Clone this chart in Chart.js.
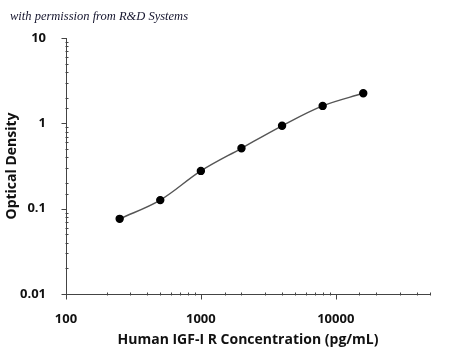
<!DOCTYPE html>
<html>
<head>
<meta charset="utf-8">
<script src="https://cdn.jsdelivr.net/npm/chart.js@4"></script>
<style>
  html, body { margin: 0; padding: 0; background: #fff; }
  #wrap { position: relative; width: 450px; height: 348px; }
  #note {
    position: absolute; left: 10px; top: 9px;
    font-family: "Liberation Serif", serif; font-style: italic;
    font-size: 12.5px; color: #15152e; white-space: nowrap;
  }
</style>
</head>
<body>
<div id="wrap">
  <canvas id="chart" width="450" height="348"></canvas>
  <div id="note">with permission from R&amp;D Systems</div>
</div>
<script>
// concentration standards (pg/mL) and measured OD
const concentrations = [250, 500, 1000, 2000, 4000, 8000, 16000];
const opticalDensity = [0.076, 0.126, 0.277, 0.51, 0.935, 1.6, 2.25];

const xTickLabels = ['100', '1000', '10000'];
const yTickLabels = ['0.01', '0.1', '1', '10'];

const axisColor = '#444';
const fontFamily = '"Open Sans", sans-serif';

function isDecade(v) {
    const l = Math.log10(v);
    return Math.abs(l - Math.round(l)) < 1e-9;
}

function labelFor(list, v) {
    return list.find(t => Math.abs(Number(t) - v) / v < 1e-9) || '';
}

// small tick marks: long ones outside on decades, short crossing ones otherwise
const tickMarks = {
    id: 'tickMarks',
    afterDraw(chart) {
        const ctx = chart.ctx;
        const area = chart.chartArea;
        ctx.save();
        ctx.strokeStyle = axisColor;
        ctx.lineWidth = 1;
        ctx.beginPath();
        chart.scales.x.ticks.forEach(t => {
            const px = Math.round(chart.scales.x.getPixelForValue(t.value)) + 0.5;
            const y = Math.round(area.bottom) + 0.5;
            if (isDecade(t.value)) {
                ctx.moveTo(px, y); ctx.lineTo(px, y + 5);
            } else {
                ctx.moveTo(px, y - 2); ctx.lineTo(px, y + 1);
            }
        });
        chart.scales.y.ticks.forEach(t => {
            const py = Math.round(chart.scales.y.getPixelForValue(t.value)) + 0.5;
            const x = Math.round(area.left) + 0.5;
            if (isDecade(t.value)) {
                ctx.moveTo(x - 5, py); ctx.lineTo(x, py);
            } else {
                ctx.moveTo(x - 1, py); ctx.lineTo(x + 2, py);
            }
        });
        ctx.stroke();
        ctx.restore();
    }
};

new Chart(document.getElementById('chart'), {
    type: 'line',
    data: {
        datasets: [{
            data: concentrations.map((c, i) => ({ x: c, y: opticalDensity[i] })),
            borderColor: '#555',
            borderWidth: 1.4,
            tension: 0.35,
            pointBackgroundColor: '#000',
            pointBorderColor: '#000',
            pointRadius: 3.5,
            fill: false
        }]
    },
    options: {
        responsive: false,
        animation: false,
        layout: { padding: { top: 38, right: 20, left: 0, bottom: 0 } },
        plugins: { legend: { display: false }, tooltip: { enabled: false } },
        scales: {
            x: {
                type: 'logarithmic',
                min: 100,
                max: 50000,
                grid: { display: false },
                border: { display: true, color: axisColor, width: 1 },
                ticks: {
                    autoSkip: false,
                    maxRotation: 0,
                    padding: 9,
                    color: '#111',
                    font: { family: fontFamily, size: 13, weight: 'bold' },
                    callback: v => labelFor(xTickLabels, v)
                },
                title: {
                    display: true,
                    text: 'Human IGF-I R Concentration (pg/mL)',
                    color: '#111',
                    font: { family: fontFamily, size: 14, weight: 'bold' },
                    padding: { top: 0, bottom: 0 }
                },
                afterFit: s => { s.height = 54; }
            },
            y: {
                type: 'logarithmic',
                min: 0.01,
                max: 10,
                grid: { display: false },
                border: { display: true, color: axisColor, width: 1 },
                ticks: {
                    autoSkip: false,
                    padding: 12,
                    color: '#111',
                    font: { family: fontFamily, size: 13, weight: 'bold' },
                    callback: v => labelFor(yTickLabels, v)
                },
                title: {
                    display: true,
                    text: 'Optical Density',
                    color: '#111',
                    font: { family: fontFamily, size: 14, weight: 'bold' },
                    padding: { top: 4, bottom: 0 }
                },
                afterFit: s => { s.width = 66; }
            }
        }
    },
    plugins: [tickMarks]
});
</script>
</body>
</html>
